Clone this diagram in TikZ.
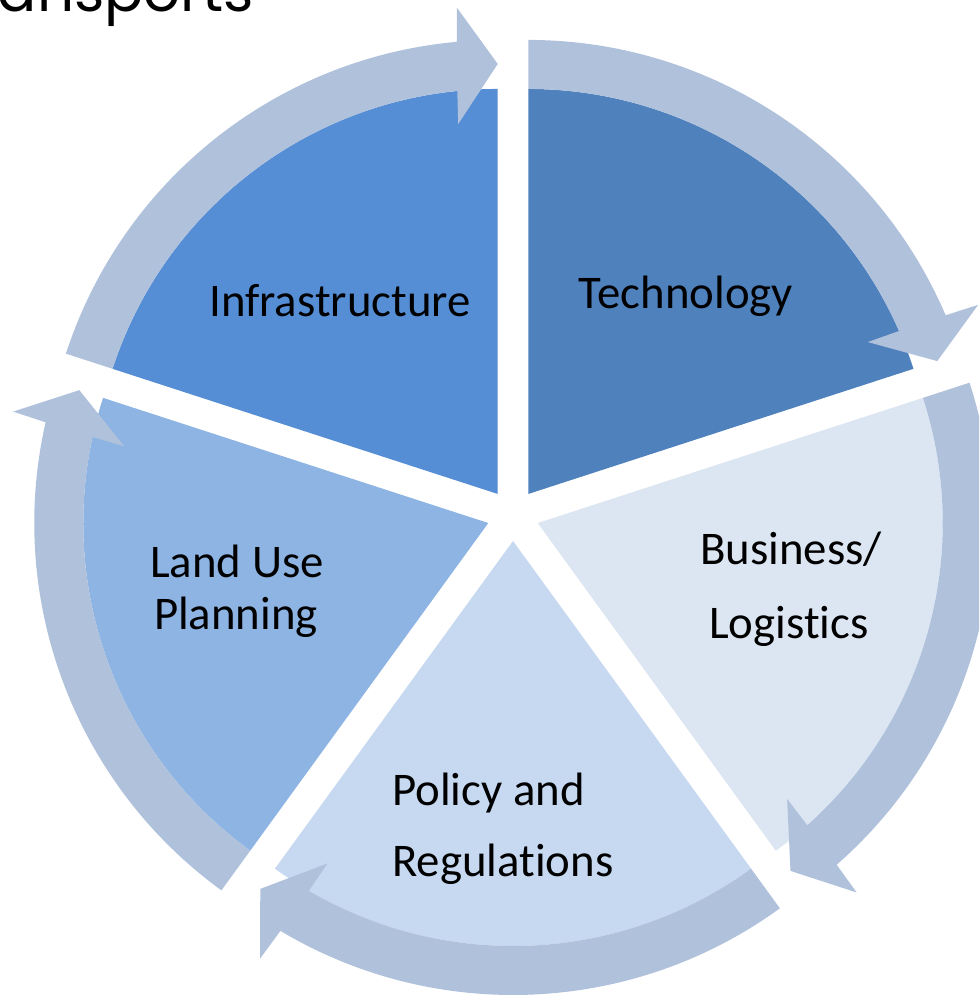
\documentclass[tikz,border=0pt]{standalone}
\usepackage{fontspec}
\setmainfont[Ligatures=NoCommon]{Carlito}
\newfontfamily\titlefont{Poppins}
\definecolor{infrac}{HTML}{558ED5}
\definecolor{techc}{HTML}{4F81BD}
\definecolor{busic}{HTML}{DCE6F2}
\definecolor{polic}{HTML}{C6D9F1}
\definecolor{landc}{HTML}{8EB4E3}
\definecolor{arrowc}{HTML}{B0C1DC}
\tikzset{
  seglabel/.style={font=\fontsize{46.8pt}{56pt}\selectfont, text=black, inner sep=0pt, anchor=base},
  titletext/.style={font=\titlefont\fontsize{58pt}{64pt}\selectfont, text=black, inner sep=0pt, anchor=base east},
}
\newcommand{\segshape}[3]{%
  \fill[#1] (0pt,0pt) -- (#2:405pt) arc[start angle=#2, end angle=#3, radius=405pt] -- cycle;}
\newcommand{\cyclearrow}[2]{%
  \pgfmathsetmacro{\arwAi}{#2+5.73}%
  \pgfmathsetmacro{\arwWi}{#2+6.1}%
  \pgfmathsetmacro{\arwWo}{#2+4.8}%
  \pgfmathsetmacro{\arwAo}{#2+5.18}%
  \fill[arrowc] (#1:454pt) -- (#1:405pt) arc[start angle=#1, end angle=\arwAi, radius=405pt]
    -- (\arwWi:372pt) -- (#2:430pt) -- (\arwWo:488pt) -- (\arwAo:454pt)
    arc[start angle=\arwAo, end angle=#1, radius=454pt] -- cycle;}
\begin{document}
\begin{tikzpicture}[x=1pt,y=1pt]
\useasboundingbox (0,0) rectangle (979,995);
\clip (0,0) rectangle (979,995);
\fill[white] (0,0) rectangle (979,995);
% title (cut by the top edge)
\node[titletext] (title) at (254,983) {Transports};
% pie segments
\begin{scope}[shift={(513,480)}]
  \begin{scope}[shift={(126:26pt)}]\segshape{infrac}{90}{162}\end{scope}
  \begin{scope}[shift={(54:26pt)}]\segshape{techc}{18}{90}\end{scope}
  \begin{scope}[shift={(-18:26pt)}]\segshape{busic}{-54}{18}\end{scope}
  \begin{scope}[shift={(270:26pt)}]\segshape{polic}{234}{306}\end{scope}
  \begin{scope}[shift={(198:26pt)}]\segshape{landc}{162}{234}\end{scope}
  % circular arrows
  \begin{scope}[shift={(126:26pt)}]\cyclearrow{162}{90}\end{scope}
  \begin{scope}[shift={(54:26pt)}]\cyclearrow{90}{18}\end{scope}
  \begin{scope}[shift={(-18:26pt)}]\cyclearrow{18}{-54}\end{scope}
  \begin{scope}[shift={(270:26pt)}]\cyclearrow{306}{234}\end{scope}
  \begin{scope}[shift={(198:26pt)}]\cyclearrow{234}{162}\end{scope}
\end{scope}
% labels
\node[seglabel] (infra) at (340,678) {Infrastructure};
\node[seglabel] (tech) at (686,686) {Technology};
\node[seglabel] (busi1) at (791,430) {Business/};
\node[seglabel] (busi2) at (789,356) {Logistics};
\node[seglabel, anchor=base west] (poli1) at (392,189) {Policy and};
\node[seglabel, anchor=base west] (poli2) at (392,118) {Regulations};
\node[seglabel] (land1) at (237,417) {Land Use};
\node[seglabel] (land2) at (236,365) {Planning};
\end{tikzpicture}
\end{document}
